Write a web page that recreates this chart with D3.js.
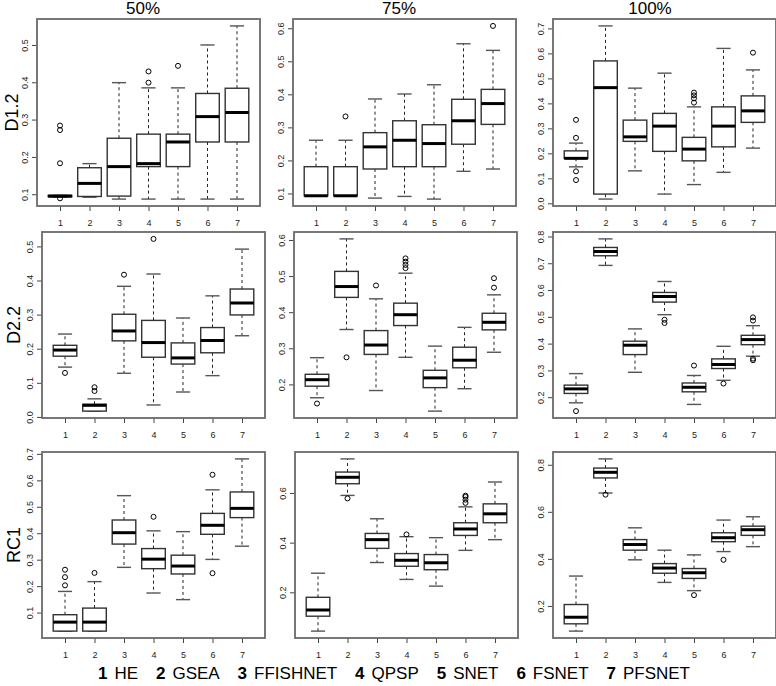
<!DOCTYPE html>
<html>
<head>
<meta charset="utf-8">
<title>Boxplots</title>
<script src="https://d3js.org/d3.v7.min.js"></script>
<style>
  body { margin: 0; background: #fff; }
  svg { display: block; font-family: "Liberation Sans", Arial, sans-serif; }
  .frame { fill: none; stroke: #6a6a6a; stroke-width: 1.8px; }
  .box { fill: #fff; stroke: #333; stroke-width: 1.4px; }
  .median { stroke: #000; stroke-width: 3px; }
  .whisker { stroke: #222; stroke-width: 1px; stroke-dasharray: 3,3; }
  .staple { stroke: #555; stroke-width: 1.4px; }
  .outlier { fill: none; stroke: #000; stroke-width: 1px; }
  .axis path.domain { display: none; }
  .axis line { stroke: #444; }
  .axis text { font-size: 9px; fill: #222; font-family: "Liberation Sans", Arial, sans-serif; }
</style>
</head>
<body>
<svg width="776" height="686"></svg>
<script>
// categories
var methods = ["HE", "GSEA", "FFISHNET", "QPSP", "SNET", "FSNET", "PFSNET"];
var coverages = ["50%", "75%", "100%"];
var datasets = ["D1.2", "D2.2", "RC1"];

// box stats per method: [lower whisker, Q1, median, Q3, upper whisker]
var d12_50 = [[0.092,0.093,0.095,0.097,0.097],[0.092,0.094,0.129,0.171,0.182],[0.087,0.095,0.174,0.250,0.399],
  [0.087,0.174,0.182,0.261,0.385],[0.087,0.174,0.240,0.261,0.385],[0.087,0.240,0.308,0.370,0.500],[0.087,0.240,0.319,0.384,0.551]];
var d12_50_out = [[0.089,0.183,0.272,0.284],[],[],[0.399,0.429],[0.444],[],[]];
var d12_75 = [[0.093,0.093,0.093,0.181,0.261],[0.093,0.093,0.093,0.181,0.261],[0.086,0.174,0.241,0.284,0.386],
  [0.091,0.181,0.261,0.320,0.401],[0.083,0.181,0.251,0.308,0.429],[0.167,0.249,0.320,0.385,0.553],[0.174,0.309,0.372,0.415,0.533]];
var d12_75_out = [[],[0.333],[],[],[],[],[0.607]];
var d12_100 = [[0.146,0.180,0.180,0.210,0.241],[0.017,0.037,0.463,0.570,0.710],[0.130,0.248,0.266,0.333,0.461],
  [0.037,0.208,0.309,0.360,0.521],[0.075,0.170,0.217,0.264,0.386],[0.124,0.226,0.309,0.386,0.620],[0.221,0.324,0.370,0.430,0.534]];
var d12_100_out = [[0.093,0.128,0.262,0.334],[],[],[],[0.403,0.420,0.432,0.443],[],[0.603]];

var d22_50 = [[0.146,0.178,0.196,0.210,0.243],[0.017,0.017,0.034,0.037,0.053],[0.128,0.223,0.252,0.301,0.383],
  [0.035,0.175,0.218,0.283,0.419],[0.073,0.155,0.173,0.217,0.290],[0.121,0.188,0.224,0.262,0.355],[0.238,0.299,0.334,0.375,0.492]];
var d22_50_out = [[0.129],[0.076,0.087],[0.417],[0.522],[],[],[]];
var d22_75 = [[0.163,0.195,0.213,0.228,0.274],[0.352,0.441,0.471,0.513,0.603],[0.183,0.283,0.309,0.349,0.437],
  [0.275,0.363,0.393,0.425,0.508],[0.126,0.191,0.218,0.239,0.306],[0.188,0.246,0.267,0.303,0.358],[0.289,0.351,0.372,0.397,0.448]];
var d22_75_out = [[0.147],[0.275],[0.474],[0.522,0.531,0.540,0.549],[],[],[0.468,0.494]];
var d22_100 = [[0.179,0.214,0.231,0.245,0.288],[0.692,0.728,0.744,0.759,0.791],[0.293,0.359,0.394,0.409,0.455],
  [0.508,0.555,0.576,0.591,0.632],[0.173,0.220,0.237,0.253,0.281],[0.263,0.307,0.322,0.343,0.390],[0.353,0.396,0.415,0.431,0.467]];
var d22_100_out = [[0.148],[],[],[0.477,0.489],[0.318],[0.251],[0.338,0.344,0.486,0.498]];

var rc1_50 = [[0.030,0.030,0.064,0.092,0.180],[0.030,0.030,0.064,0.117,0.217],[0.271,0.359,0.402,0.450,0.542],
  [0.174,0.266,0.302,0.342,0.409],[0.149,0.246,0.276,0.317,0.406],[0.301,0.396,0.430,0.475,0.564],[0.351,0.459,0.494,0.556,0.681]];
var rc1_50_out = [[0.203,0.234,0.262],[0.250],[],[0.462],[],[0.249,0.621],[]];
var rc1_75 = [[0.044,0.104,0.129,0.180,0.277],[0.590,0.637,0.663,0.684,0.737],[0.320,0.377,0.412,0.437,0.496],
  [0.252,0.305,0.329,0.356,0.424],[0.225,0.291,0.319,0.352,0.420],[0.369,0.429,0.455,0.480,0.544],[0.412,0.480,0.516,0.556,0.644]];
var rc1_75_out = [[],[0.578],[],[0.433],[],[0.560,0.573,0.584,0.589],[]];
var rc1_100 = [[0.093,0.124,0.152,0.206,0.327],[0.680,0.744,0.768,0.786,0.825],[0.396,0.437,0.461,0.482,0.532],
  [0.300,0.339,0.361,0.380,0.437],[0.265,0.317,0.341,0.359,0.417],[0.431,0.473,0.490,0.511,0.565],[0.452,0.500,0.524,0.539,0.579]];
var rc1_100_out = [[],[0.673],[],[],[0.246],[0.396],[]];

// y tick labels per panel
var ticksD12 = [[0.1,0.2,0.3,0.4,0.5],[0.1,0.2,0.3,0.4,0.5,0.6],[0,0.1,0.2,0.3,0.4,0.5,0.6,0.7]];
var ticksD22 = [[0,0.1,0.2,0.3,0.4,0.5],[0.2,0.3,0.4,0.5,0.6],[0.2,0.3,0.4,0.5,0.6,0.7,0.8]];
var ticksRC1 = [[0.1,0.2,0.3,0.4,0.5,0.6,0.7],[0.2,0.4,0.6],[0.2,0.4,0.6,0.8]];

var panelStats = [[d12_50, d12_75, d12_100], [d22_50, d22_75, d22_100], [rc1_50, rc1_75, rc1_100]];
var panelOut = [[d12_50_out, d12_75_out, d12_100_out], [d22_50_out, d22_75_out, d22_100_out], [rc1_50_out, rc1_75_out, rc1_100_out]];
var panelTicks = [ticksD12, ticksD22, ticksRC1];

// layout
var svg = d3.select("svg");
var rowTop = [19, 232, 452], rowH = [187, 186, 186];
var colLeft = [[37, 293, 553], [42, 294, 553], [42, 295, 553]];
var panelW = 223;
var titleX = [143, 399, 650];

function drawPanel(r, c) {
  var stats = panelStats[r][c], outs = panelOut[r][c];
  var left = colLeft[r][c], top = rowTop[r], h = rowH[r];
  var vals = d3.merge(stats).concat(d3.merge(outs));
  var lo = d3.min(vals), hi = d3.max(vals), pad = (hi - lo) * 0.04;

  var y = d3.scaleLinear().domain([lo - pad, hi + pad]).range([top + h, top]);
  var x = d3.scaleLinear().domain([0.5 - 0.28, 7.5 + 0.28]).range([left, left + panelW]);
  var halfBox = x(1.4) - x(1), halfStaple = halfBox * 0.6;

  var g = svg.append("g");

  // axes
  var ya = g.append("g").attr("class", "axis")
      .attr("transform", "translate(" + left + ",0)")
      .call(d3.axisLeft(y).tickValues(panelTicks[r][c]).tickFormat(d3.format(".1f")).tickSize(5));
  ya.selectAll("text")
      .attr("transform", "rotate(-90)")
      .attr("x", 0).attr("y", -9).attr("dy", 0)
      .style("text-anchor", "middle");

  g.append("g").attr("class", "axis")
      .attr("transform", "translate(0," + (top + h) + ")")
      .call(d3.axisBottom(x).tickValues(d3.range(1, 8)).tickSize(5).tickPadding(9).tickFormat(d3.format("d")));

  var b = g.selectAll(".bx").data(stats).enter().append("g").attr("class", "bx");
  var cx = function(d, i) { return x(i + 1); };

  // whiskers
  b.append("line").attr("class", "whisker")
      .attr("x1", cx).attr("x2", cx)
      .attr("y1", function(d) { return y(d[3]); }).attr("y2", function(d) { return y(d[4]); });
  b.append("line").attr("class", "whisker")
      .attr("x1", cx).attr("x2", cx)
      .attr("y1", function(d) { return y(d[1]); }).attr("y2", function(d) { return y(d[0]); });
  // staples
  [0, 4].forEach(function(k) {
    b.append("line").attr("class", "staple")
        .attr("x1", function(d, i) { return x(i + 1) - halfStaple; })
        .attr("x2", function(d, i) { return x(i + 1) + halfStaple; })
        .attr("y1", function(d) { return y(d[k]); }).attr("y2", function(d) { return y(d[k]); });
  });
  // box
  b.append("rect").attr("class", "box")
      .attr("x", function(d, i) { return x(i + 1) - halfBox; })
      .attr("width", halfBox * 2)
      .attr("y", function(d) { return y(d[3]); })
      .attr("height", function(d) { return Math.max(0.5, y(d[1]) - y(d[3])); });
  // median
  b.append("line").attr("class", "median")
      .attr("x1", function(d, i) { return x(i + 1) - halfBox; })
      .attr("x2", function(d, i) { return x(i + 1) + halfBox; })
      .attr("y1", function(d) { return y(d[2]); }).attr("y2", function(d) { return y(d[2]); });

  // outliers
  var pts = [];
  outs.forEach(function(arr, i) { arr.forEach(function(v) { pts.push({ m: i + 1, v: v }); }); });
  g.selectAll(".outlier").data(pts).enter().append("circle")
      .attr("class", "outlier")
      .attr("cx", function(d) { return x(d.m); })
      .attr("cy", function(d) { return y(d.v); })
      .attr("r", 2.5);

  g.append("rect").attr("class", "frame")
      .attr("x", left).attr("y", top).attr("width", panelW).attr("height", h);
}

for (var r = 0; r < 3; r++) {
  for (var c = 0; c < 3; c++) drawPanel(r, c);
}

// column titles
svg.selectAll(".coltitle").data(coverages).enter().append("text")
    .attr("x", function(d, i) { return titleX[i]; })
    .attr("y", 14)
    .attr("text-anchor", "middle")
    .style("font-size", "17px")
    .text(function(d) { return d; });

// row labels
svg.selectAll(".rowlab").data(datasets).enter().append("text")
    .attr("transform", function(d, i) {
      return "translate(" + Math.max(colLeft[i][0] - 22, 18) + "," + (rowTop[i] + rowH[i] / 2) + ") rotate(-90)";
    })
    .attr("text-anchor", "middle")
    .style("font-size", "18px")
    .text(function(d) { return d; });

// legend: bold number + method name, spread over the bottom line
var leg = svg.append("g");
var parts = [];
methods.forEach(function(m, i) {
  parts.push({ t: String(i + 1), bold: true });
  parts.push({ t: m, bold: false });
});
var nodes = leg.selectAll("text").data(parts).enter().append("text")
    .attr("y", 679)
    .style("font-size", "17px")
    .style("font-weight", function(d) { return d.bold ? "bold" : "normal"; })
    .text(function(d) { return d.t; });
var widths = [];
nodes.each(function() { widths.push(this.getComputedTextLength()); });
var legLeft = 98, legRight = 690, gapNum = 7;
var natural = d3.sum(widths) + gapNum * methods.length;
var gapItem = (legRight - legLeft - natural) / (methods.length - 1);
var cur = legLeft;
nodes.attr("x", function(d, i) {
  var xx = cur;
  cur += widths[i] + (d.bold ? gapNum : gapItem);
  return xx;
});
</script>
</body>
</html>
